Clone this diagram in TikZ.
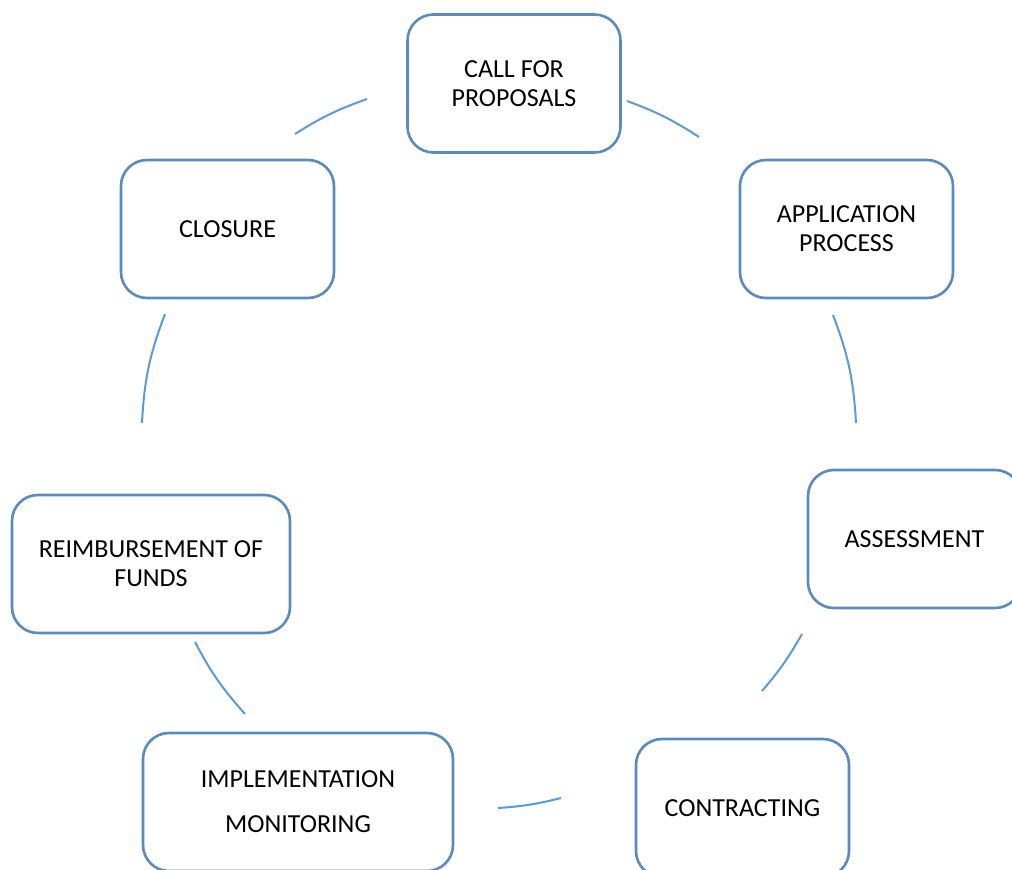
\documentclass[tikz,border=0pt]{standalone}
\usepackage{fontspec}
\setmainfont{Carlito}
\begin{document}
\begin{tikzpicture}[x=1pt,y=-1pt,
  stagebox/.style={draw=boxblue, line width=2.6pt, rounded corners=26pt,
    fill=white, minimum width=213pt, minimum height=138pt,
    align=center, font=\fontsize{26}{29}\selectfont, inner sep=0pt},
  cyclearc/.style={draw=arcblue, line width=2pt}]
  \definecolor{boxblue}{HTML}{5A8AC0}
  \definecolor{arcblue}{HTML}{5B9BD5}
  \useasboundingbox (0,0) rectangle (1012,870);
  \clip (0,0) rectangle (1012,870);
  \fill[white] (0,0) rectangle (1012,870);

  % stages of the cycle
  \node[stagebox] (call)   at (514,83.5) {CALL FOR\\PROPOSALS};
  \node[stagebox] (appl)   at (846.5,229) {APPLICATION\\PROCESS};
  \node[stagebox] (assess) at (914.5,539) {ASSESSMENT};
  \node[stagebox] (contr)  at (742.5,808) {CONTRACTING};
  \node[stagebox, minimum width=310pt, font=\fontsize{26}{45}\selectfont]
    (impl) at (298,802) {IMPLEMENTATION\\MONITORING};
  \node[stagebox, minimum width=278pt] (reimb) at (151,564) {REIMBURSEMENT OF\\FUNDS};
  \node[stagebox] (close)  at (227.5,229) {CLOSURE};

  % arc end points between stages
  \coordinate (a1s) at (627,101);  \coordinate (a1e) at (699,137);
  \coordinate (a2s) at (833,315);  \coordinate (a2e) at (856,423);
  \coordinate (a3s) at (802,634);  \coordinate (a3e) at (762,691);
  \coordinate (a4s) at (561,798);  \coordinate (a4e) at (498,808);
  \coordinate (a5s) at (245,714);  \coordinate (a5e) at (195,642);
  \coordinate (a6s) at (142,423);  \coordinate (a6e) at (165,314);
  \coordinate (a7s) at (295,134);  \coordinate (a7e) at (367,99);

  \draw[cyclearc] (a1s) to[bend left=6.4] (a1e);
  \draw[cyclearc] (a2s) to[bend left=8.8] (a2e);
  \draw[cyclearc] (a3s) to[bend left=5.5] (a3e);
  \draw[cyclearc] (a4s) to[bend left=5.1] (a4e);
  \draw[cyclearc] (a5s) to[bend left=7] (a5e);
  \draw[cyclearc] (a6s) to[bend left=8.9] (a6e);
  \draw[cyclearc] (a7s) to[bend left=6.4] (a7e);
\end{tikzpicture}
\end{document}
